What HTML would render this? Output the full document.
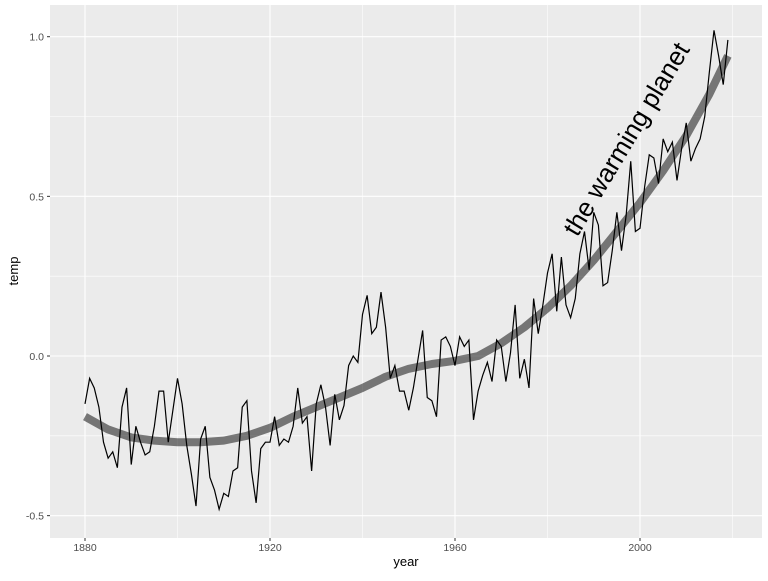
<!DOCTYPE html>
<html><head><meta charset="utf-8"><style>
body{margin:0;background:#fff;font-family:"Liberation Sans",sans-serif}
</style></head><body>
<svg id="chart" width="768" height="576" xmlns="http://www.w3.org/2000/svg">
<rect x="0" y="0" width="768" height="576" fill="#fff"/>
<rect x="50" y="5" width="712" height="533" fill="#ebebeb"/>
<g id="grid"></g>
<g id="axes"></g>
<g id="marks"></g>
<text x="628" y="140" transform="rotate(-59 628 140)" text-anchor="middle" dominant-baseline="middle" font-size="26" fill="#000">the warming planet</text>
<text x="406" y="566" text-anchor="middle" font-size="13" fill="#000">year</text>
<text x="18" y="271" text-anchor="middle" font-size="13" fill="#000" transform="rotate(-90 18 271)">temp</text>
</svg>
<script>
const years = [];
for (let y = 1880; y <= 2019; y++) years.push(y);
const temps = [-0.15,-0.07,-0.10,-0.16,-0.27,-0.32,-0.30,-0.35,-0.16,-0.10,
-0.34,-0.22,-0.27,-0.31,-0.30,-0.22,-0.11,-0.11,-0.27,-0.17,
-0.07,-0.15,-0.28,-0.37,-0.47,-0.26,-0.22,-0.38,-0.42,-0.48,
-0.43,-0.44,-0.36,-0.35,-0.16,-0.14,-0.36,-0.46,-0.29,-0.27,
-0.27,-0.19,-0.28,-0.26,-0.27,-0.22,-0.10,-0.21,-0.19,-0.36,
-0.15,-0.09,-0.16,-0.28,-0.12,-0.20,-0.155,-0.03,0.00,-0.02,
0.13,0.19,0.07,0.09,0.20,0.09,-0.07,-0.03,-0.11,-0.11,
-0.17,-0.10,-0.01,0.08,-0.13,-0.14,-0.19,0.05,0.06,0.03,
-0.03,0.06,0.03,0.05,-0.20,-0.11,-0.06,-0.02,-0.08,0.05,
0.03,-0.08,0.01,0.16,-0.07,-0.01,-0.10,0.18,0.07,0.16,
0.26,0.32,0.14,0.31,0.16,0.12,0.18,0.32,0.39,0.27,
0.45,0.41,0.22,0.23,0.33,0.45,0.33,0.44,0.61,0.39,
0.40,0.53,0.63,0.62,0.54,0.68,0.64,0.67,0.55,0.65,
0.73,0.61,0.65,0.68,0.75,0.89,1.02,0.94,0.85,0.99];
const smoothYears = [1880,1885,1890,1895,1900,1905,1910,1915,1920,1925,1930,1935,1940,1945,1950,1955,1960,1965,1970,1975,1980,1985,1990,1995,2000,2005,2010,2015,2019];
const smoothVals = [-0.19,-0.23,-0.255,-0.265,-0.27,-0.27,-0.265,-0.25,-0.225,-0.19,-0.16,-0.13,-0.10,-0.065,-0.04,-0.025,-0.015,0.0,0.04,0.09,0.15,0.22,0.30,0.39,0.48,0.58,0.69,0.82,0.94];
const xTicks = [1880,1920,1960,2000];
const xMinor = [1900,1940,1980,2020];
const yTicks = [-0.5,0.0,0.5,1.0];
const yTickLabels = ["-0.5","0.0","0.5","1.0"];
const yMinor = [-0.25,0.25,0.75];

const NS = "http://www.w3.org/2000/svg";
const X = v => 85 + (v - 1880) * 4.625;
const Y = v => 356 - v * 319.3;
function mk(tag, attrs, parent){const e=document.createElementNS(NS,tag);for(const k in attrs)e.setAttribute(k,attrs[k]);document.getElementById(parent).appendChild(e);return e;}

xMinor.forEach(t=>{const l=mk('line',{x1:X(t),x2:X(t),y1:5,y2:538,stroke:'#fff','stroke-width':0.55},'grid');

});
yMinor.forEach(t=>{const l=mk('line',{x1:50,x2:762,y1:Y(t),y2:Y(t),stroke:'#fff','stroke-width':0.55},'grid');

});
xTicks.forEach(t=>{const l=mk('line',{x1:X(t),x2:X(t),y1:5,y2:538,stroke:'#fff','stroke-width':1.1},'grid');


const tk=mk('line',{x1:X(t),x2:X(t),y1:538,y2:541,stroke:'#333','stroke-width':1},'axes');


const tx=mk('text',{x:X(t),y:551,'text-anchor':'middle','font-size':10.5,fill:'#4d4d4d'},'axes');tx.textContent=t;

});
yTicks.forEach((t,i)=>{const l=mk('line',{x1:50,x2:762,y1:Y(t),y2:Y(t),stroke:'#fff','stroke-width':1.1},'grid');


const tk=mk('line',{x1:47,x2:50,y1:Y(t),y2:Y(t),stroke:'#333','stroke-width':1},'axes');


const tx=mk('text',{x:44,y:Y(t)+4,'text-anchor':'end','font-size':10.5,fill:'#4d4d4d'},'axes');tx.textContent=yTickLabels[i];

});

const sm=mk('polyline',{points:smoothYears.map((y,i)=>X(y)+','+Y(smoothVals[i])).join(' '),fill:'none',stroke:'#000','stroke-opacity':0.5,'stroke-width':8,'stroke-linejoin':'round'},'marks');


const ln=mk('polyline',{points:years.map((y,i)=>X(y)+','+Y(temps[i])).join(' '),fill:'none',stroke:'#000','stroke-width':1.2},'marks');


</script>
</body></html>
